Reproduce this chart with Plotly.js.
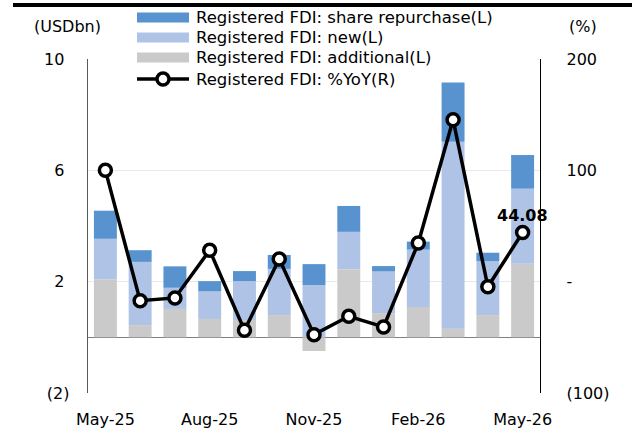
<!DOCTYPE html>
<html>
<head>
<meta charset="utf-8">
<script src="https://cdn.plot.ly/plotly-3.0.1.min.js"></script>
<style>
html,body{margin:0;padding:0;background:#fff;}
#chart{width:632px;height:432px;}
</style>
</head>
<body>
<div id="chart"></div>
<script>
// ---- data ----
const months = ['May-25','Jun-25','Jul-25','Aug-25','Sep-25','Oct-25','Nov-25','Dec-25','Jan-26','Feb-26','Mar-26','Apr-26','May-26'];
const additional = [2.09, 0.44, 1.02, 0.66, 0.62, 0.80, -0.49, 2.45, 0.87, 1.09, 0.31, 0.80, 2.64];
const newFdi     = [1.45, 2.27, 0.76, 0.99, 1.40, 1.66, 1.88, 1.34, 1.50, 2.06, 6.72, 1.94, 2.70];
const repurchase = [1.01, 0.42, 0.77, 0.37, 0.36, 0.50, 0.75, 0.93, 0.19, 0.29, 2.13, 0.30, 1.21];
const yoy        = [100.0, -17.1, -14.6, 28.2, -43.7, 20.4, -47.6, -31.1, -40.7, 34.8, 145.5, -4.5, 44.08];
const xTickVals  = ['May-25','Aug-25','Nov-25','Feb-26','May-26'];
const yLeftVals  = [-2, 2, 6, 10];
const yLeftText  = ['(2)', '2\u2008', '6\u2008', '10\u2008'];
const yRightVals = [-100, 0, 100, 200];
const yRightText = ['(100)', '-', '100', '200'];
const legendNames = ['Registered FDI: share repurchase(L)', 'Registered FDI: new(L)', 'Registered FDI: additional(L)', 'Registered FDI: %YoY(R)'];

// ---- style ----
const FONT = 'DejaVu Sans';
const C_REP = '#5893D0', C_NEW = '#AEC3E6', C_ADD = '#CACACA';
const L = 88, R = 540, T = 59, B = 393;
const px = x => (x - L) / (R - L);
const py = y => (B - y) / (B - T);

const traces = [
  {type:'bar', name:legendNames[2], x:months, y:additional, marker:{color:C_ADD, line:{width:0}}, showlegend:false, hoverinfo:'skip'},
  {type:'bar', name:legendNames[1], x:months, y:newFdi, marker:{color:C_NEW, line:{width:0}}, showlegend:false, hoverinfo:'skip'},
  {type:'bar', name:legendNames[0], x:months, y:repurchase, marker:{color:C_REP, line:{width:0}}, showlegend:false, hoverinfo:'skip'},
  {type:'scatter', mode:'lines+markers', name:legendNames[3], x:months, y:yoy, yaxis:'y2',
   line:{color:'#000', width:3.5}, marker:{size:12, color:'#fff', line:{color:'#000', width:3.5}},
   showlegend:false, hoverinfo:'skip', cliponaxis:false}
];

const shapes = [
  {type:'line', xref:'paper', yref:'paper', x0:px(13), x1:px(632), y0:py(5), y1:py(5), line:{color:'#000', width:4}},
  {type:'rect', xref:'paper', yref:'paper', x0:px(137), x1:px(189), y0:py(22.5), y1:py(12.5), fillcolor:C_REP, line:{width:0}},
  {type:'rect', xref:'paper', yref:'paper', x0:px(137), x1:px(189), y0:py(42.5), y1:py(32.5), fillcolor:C_NEW, line:{width:0}},
  {type:'rect', xref:'paper', yref:'paper', x0:px(137), x1:px(189), y0:py(62.5), y1:py(52.5), fillcolor:C_ADD, line:{width:0}},
  {type:'line', xref:'paper', yref:'paper', x0:px(137), x1:px(189), y0:py(79), y1:py(79), line:{color:'#000', width:3.5}},
  {type:'circle', xref:'paper', yref:'paper', x0:px(157), x1:px(169), y0:py(85), y1:py(73), fillcolor:'#fff', line:{color:'#000', width:3.5}}
];

const legendY = [17.5, 37.5, 57.5, 79];
const annotations = legendNames.map((t, i) => ({
  xref:'paper', yref:'paper', x:px(194), y:py(legendY[i]), xanchor:'left', yanchor:'middle',
  text:t, showarrow:false, font:{family:FONT, size:16.5, color:'#000'}
}));
annotations.push(
  {xref:'paper', yref:'paper', x:px(67.5), y:py(27), xanchor:'center', yanchor:'middle', text:'(USDbn)', showarrow:false, font:{family:FONT, size:16, color:'#000'}},
  {xref:'paper', yref:'paper', x:px(582.5), y:py(27), xanchor:'center', yanchor:'middle', text:'(%)', showarrow:false, font:{family:FONT, size:16, color:'#000'}},
  {xref:'x', yref:'y2', x:months[months.length-1], y:yoy[yoy.length-1], yshift:17, xanchor:'center', yanchor:'middle',
   text:'<b>' + yoy[yoy.length-1].toFixed(2) + '</b>', showarrow:false, font:{family:FONT, size:16, color:'#000'}}
);

const layout = {
  width:632, height:432,
  margin:{l:L, r:632-R, t:T, b:432-B, pad:0},
  paper_bgcolor:'#fff', plot_bgcolor:'#fff',
  barmode:'relative', bargap:0.34,
  showlegend:false,
  font:{family:FONT, size:16, color:'#000'},
  xaxis:{type:'category', categoryorder:'array', categoryarray:months, range:[-0.5, months.length-0.5],
         tickmode:'array', tickvals:xTickVals, ticks:'', showgrid:false, showline:false, zeroline:false,
         ticklabelstandoff:15, tickfont:{family:FONT, size:16, color:'#000'}},
  yaxis:{range:[-2,10], tickmode:'array', tickvals:yLeftVals, ticktext:yLeftText, ticks:'',
         showgrid:true, gridcolor:'#E9E9E9', gridwidth:1, zeroline:true, zerolinecolor:'#808080', zerolinewidth:1.3,
         showline:true, linecolor:'#595959', linewidth:1.3, ticklabelstandoff:14, tickfont:{family:FONT, size:16, color:'#000'}},
  yaxis2:{overlaying:'y', side:'right', range:[-100,200], tickmode:'array', tickvals:yRightVals, ticktext:yRightText, ticks:'',
          showgrid:false, zeroline:false, showline:true, linecolor:'#000', linewidth:1.3, ticklabelstandoff:22,
          tickfont:{family:FONT, size:16, color:'#000'}},
  shapes:shapes,
  annotations:annotations
};

Plotly.newPlot('chart', traces, layout, {staticPlot:true, displayModeBar:false});
</script>
</body>
</html>
